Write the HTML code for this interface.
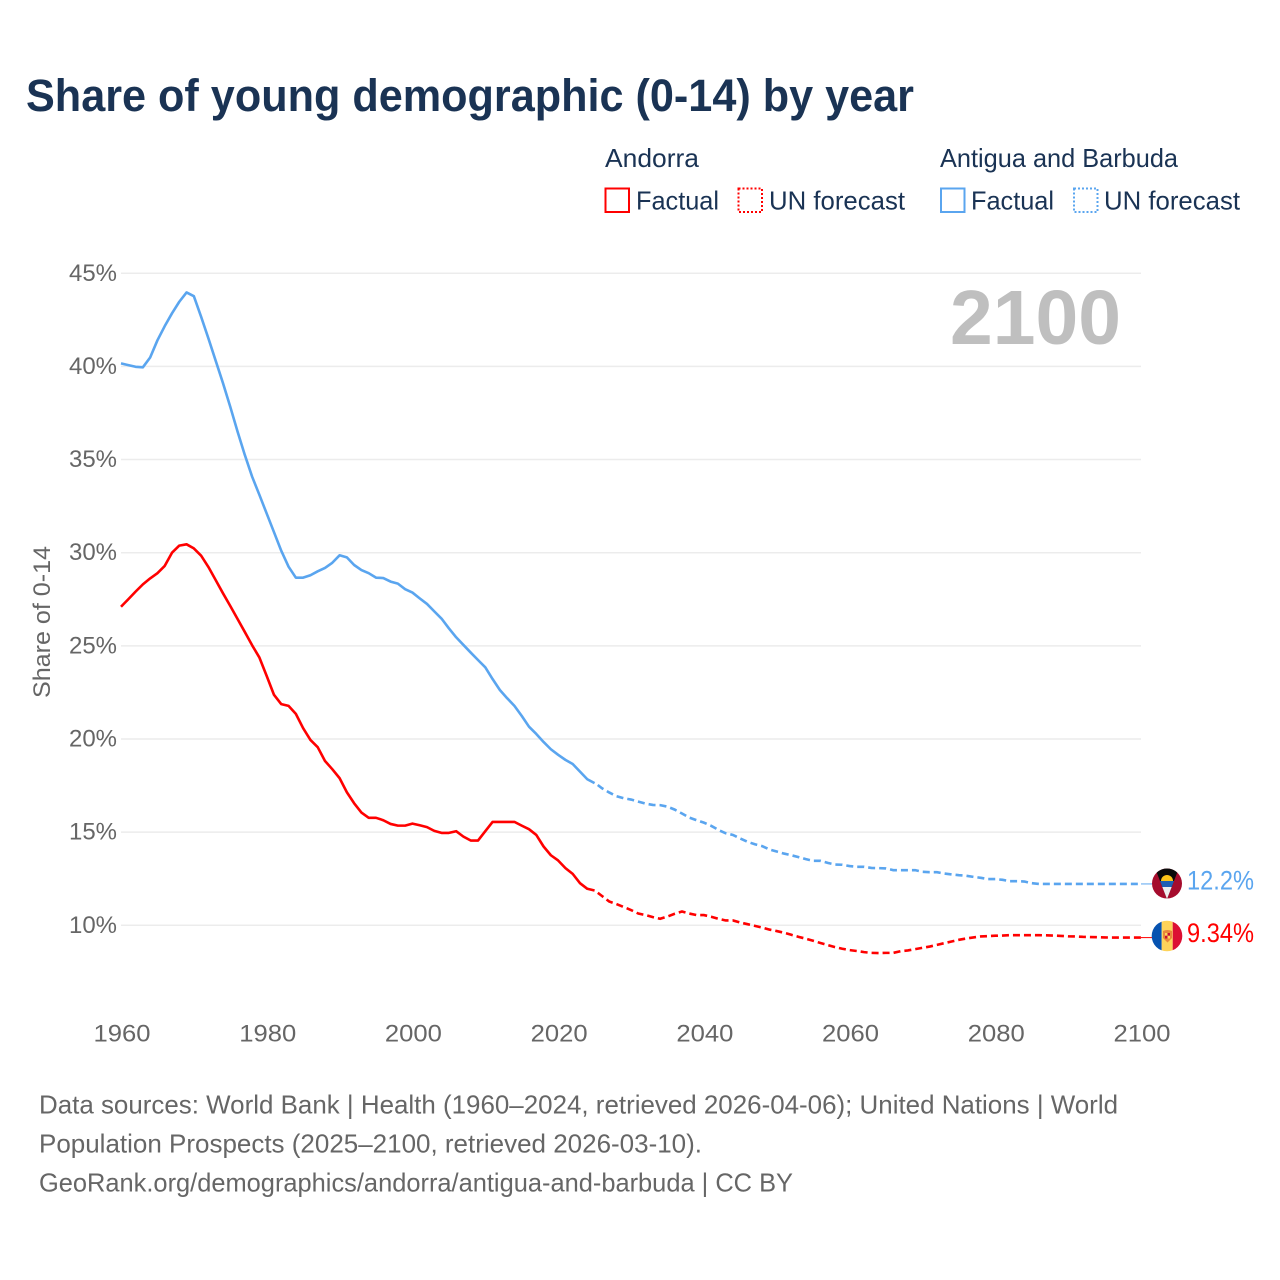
<!DOCTYPE html>
<html lang="en">
<head>
<meta charset="utf-8">
<title>Share of young demographic (0-14) by year</title>
<style>
  html, body { margin: 0; padding: 0; background: #fff; }
  svg { display: block; font-family: "Liberation Sans", sans-serif; }
</style>
</head>
<body>
<svg id="chart" width="1280" height="1280" viewBox="0 0 1280 1280" xmlns="http://www.w3.org/2000/svg">
  <rect width="1280" height="1280" fill="#ffffff"/>
  <text x="26" y="111" font-size="45" font-weight="700" fill="#1a3354" textLength="888" lengthAdjust="spacingAndGlyphs">Share of young demographic (0-14) by year</text>

  <g font-size="26" fill="#1a3354">
    <text x="605" y="167" textLength="94" lengthAdjust="spacingAndGlyphs">Andorra</text>
    <text x="940" y="167" textLength="238" lengthAdjust="spacingAndGlyphs">Antigua and Barbuda</text>
    <g>
      <rect x="605.5" y="188.5" width="23.5" height="23.5" fill="none" stroke="#ff0000" stroke-width="2"/>
      <text x="636" y="209.5" textLength="83" lengthAdjust="spacingAndGlyphs">Factual</text>
    </g>
    <g>
      <rect x="738.5" y="188.5" width="23.5" height="23.5" fill="none" stroke="#ff0000" stroke-width="2" stroke-dasharray="2 2"/>
      <text x="769" y="209.5" textLength="136" lengthAdjust="spacingAndGlyphs">UN forecast</text>
    </g>
    <g>
      <rect x="941" y="188.5" width="23.5" height="23.5" fill="none" stroke="#5aa5ef" stroke-width="2"/>
      <text x="971" y="209.5" textLength="83" lengthAdjust="spacingAndGlyphs">Factual</text>
    </g>
    <g>
      <rect x="1074" y="188.5" width="23.5" height="23.5" fill="none" stroke="#5aa5ef" stroke-width="2" stroke-dasharray="2 2"/>
      <text x="1104" y="209.5" textLength="136" lengthAdjust="spacingAndGlyphs">UN forecast</text>
    </g>
  </g>

  <g id="grid"></g>
  <g id="yticks" font-size="24.5" fill="#666666" text-anchor="end"></g>
  <g id="xticks" font-size="24.5" fill="#666666" text-anchor="middle"></g>
  <text transform="translate(50 622) rotate(-90)" font-size="24.5" fill="#666666" text-anchor="middle" textLength="152" lengthAdjust="spacingAndGlyphs">Share of 0-14</text>
  <text x="950" y="344" font-size="77" font-weight="700" fill="#bfbfbf" textLength="171" lengthAdjust="spacingAndGlyphs">2100</text>

  <g id="series" fill="none"></g>
  <g id="endlabels" font-size="27"></g>

  <defs>
    <clipPath id="flag-clip-ag"><circle cx="1167" cy="883.5" r="15"/></clipPath>
    <clipPath id="flag-clip-ad"><circle cx="1167" cy="936" r="15.3"/></clipPath>
  </defs>
  <g clip-path="url(#flag-clip-ag)">
    <rect x="1152" y="868" width="30" height="31" fill="#a50c2d"/>
    <polygon points="1155,868 1179,868 1167,899" fill="#0a0a0a"/>
    <path d="M1161 881 a6 6 0 0 1 12 0 z" fill="#fcc419"/>
    <polygon points="1160,881 1174,881 1171.7,887 1162.3,887" fill="#1f5fb4"/>
    <polygon points="1162.3,887 1171.7,887 1167,899" fill="#eeeeee"/>
  </g>
  <g clip-path="url(#flag-clip-ad)">
    <rect x="1151" y="920" width="10.7" height="32" fill="#0652b0"/>
    <rect x="1161.7" y="920" width="11" height="32" fill="#fdd35a"/>
    <rect x="1172.7" y="920" width="10" height="32" fill="#dc0f33"/>
    <path d="M1163 931 q4 -2 9 0 v7 l-4.5 4.5 l-4.5 -4.5 z" fill="#e8873a"/>
    <rect x="1165" y="933" width="5" height="5.5" fill="#fdd35a"/>
    <rect x="1167.5" y="933" width="2.5" height="2.7" fill="#c8102e"/>
    <rect x="1165" y="935.7" width="2.5" height="2.8" fill="#c8102e"/>
  </g>

  <g font-size="26" fill="#666666">
    <text x="39" y="1113.5" textLength="1079" lengthAdjust="spacingAndGlyphs">Data sources: World Bank | Health (1960–2024, retrieved 2026-04-06); United Nations | World</text>
    <text x="39" y="1152.5" textLength="663" lengthAdjust="spacingAndGlyphs">Population Prospects (2025–2100, retrieved 2026-03-10).</text>
    <text x="39" y="1191.5" textLength="754" lengthAdjust="spacingAndGlyphs">GeoRank.org/demographics/andorra/antigua-and-barbuda | CC BY</text>
  </g>
</svg>

<script>
const firstFactualYear = 1960;
const firstForecastYear = 2025;
const yTickValues = [10, 15, 20, 25, 30, 35, 40, 45];
const yTickLabels = ['10%', '15%', '20%', '25%', '30%', '35%', '40%', '45%'];
const xTickValues = [1960, 1980, 2000, 2020, 2040, 2060, 2080, 2100];
const xTickLabels = ['1960', '1980', '2000', '2020', '2040', '2060', '2080', '2100'];

const andorraFactual = [
  27.1, 27.5, 27.91, 28.3, 28.62, 28.9, 29.29, 30.0, 30.38, 30.45,
  30.23, 29.84, 29.23, 28.53, 27.82, 27.14, 26.44, 25.74, 25.03, 24.37,
  23.38, 22.37, 21.87, 21.78, 21.35, 20.58, 19.95, 19.56, 18.82, 18.38,
  17.9, 17.14, 16.55, 16.05, 15.77, 15.77, 15.64, 15.44, 15.35, 15.35,
  15.46, 15.37, 15.27, 15.07, 14.96, 14.96, 15.05, 14.76, 14.55, 14.55,
  15.05, 15.55, 15.55, 15.55, 15.55, 15.35, 15.16, 14.85, 14.23, 13.76,
  13.48, 13.07, 12.76, 12.26, 11.96, 11.87
];
const andorraForecast = [
  11.87, 11.58, 11.28, 11.14, 10.98, 10.82, 10.63, 10.55, 10.44, 10.35,
  10.47, 10.62, 10.74, 10.63, 10.55, 10.55, 10.46, 10.35, 10.26, 10.26,
  10.15, 10.06, 9.97, 9.88, 9.77, 9.69, 9.6, 9.49, 9.38, 9.28,
  9.17, 9.05, 8.94, 8.83, 8.74, 8.67, 8.62, 8.56, 8.52, 8.51,
  8.52, 8.52, 8.61, 8.65, 8.72, 8.79, 8.86, 8.95, 9.04, 9.13,
  9.22, 9.29, 9.35, 9.4, 9.42, 9.44, 9.45, 9.47, 9.47, 9.47,
  9.47, 9.47, 9.46, 9.45, 9.43, 9.41, 9.4, 9.38, 9.37, 9.36,
  9.35, 9.34, 9.34, 9.34, 9.34, 9.34
];
const antiguaFactual = [
  40.16, 40.07, 39.98, 39.95, 40.48, 41.4, 42.16, 42.85, 43.47, 43.97,
  43.77, 42.66, 41.5, 40.3, 39.1, 37.83, 36.5, 35.24, 34.08, 33.1,
  32.1, 31.1, 30.1, 29.25, 28.66, 28.66, 28.79, 29.0, 29.18, 29.46,
  29.86, 29.75, 29.34, 29.07, 28.9, 28.66, 28.64, 28.45, 28.34, 28.04,
  27.86, 27.55, 27.25, 26.85, 26.46, 25.94, 25.46, 25.05, 24.64, 24.24,
  23.85, 23.22, 22.63, 22.19, 21.78, 21.24, 20.66, 20.27, 19.84, 19.45,
  19.15, 18.88, 18.66, 18.25, 17.84, 17.63
];
const antiguaForecast = [
  17.66, 17.36, 17.13, 16.93, 16.82, 16.75, 16.64, 16.53, 16.46, 16.45,
  16.37, 16.21, 16.0, 15.78, 15.64, 15.51, 15.34, 15.12, 14.94, 14.85,
  14.66, 14.48, 14.35, 14.25, 14.07, 13.96, 13.85, 13.76, 13.66, 13.55,
  13.46, 13.46, 13.35, 13.26, 13.25, 13.18, 13.14, 13.14, 13.08, 13.07,
  13.05, 12.96, 12.96, 12.96, 12.96, 12.87, 12.85, 12.85, 12.78, 12.73,
  12.69, 12.66, 12.6, 12.55, 12.48, 12.48, 12.44, 12.37, 12.37, 12.35,
  12.26, 12.22, 12.22, 12.22, 12.22, 12.22, 12.22, 12.22, 12.22, 12.22,
  12.22, 12.22, 12.22, 12.22, 12.22, 12.22
];
const andorraEndLabel = '9.34%';
const antiguaEndLabel = '12.2%';

const SVG_NS = 'http://www.w3.org/2000/svg';
function xScale(year) { return 121 + (year - 1960) * (1020 / 140); }
function yScale(value) { return 925.3 - (value - 10) * 18.63; }
function make(tag, parent, attrs) {
  const el = document.createElementNS(SVG_NS, tag);
  for (const key in attrs) el.setAttribute(key, attrs[key]);
  parent.appendChild(el);
  return el;
}
function pathFor(values, startYear) {
  return values.map(function (v, i) {
    return (i ? 'L' : 'M') + xScale(startYear + i).toFixed(2) + ' ' + yScale(v).toFixed(2);
  }).join(' ');
}

const gridGroup = document.getElementById('grid');
const yTickGroup = document.getElementById('yticks');
const xTickGroup = document.getElementById('xticks');
const seriesGroup = document.getElementById('series');
const endGroup = document.getElementById('endlabels');

yTickValues.forEach(function (v, i) {
  const line = make('line', gridGroup, { x1: xScale(1960), x2: xScale(2100), y1: yScale(v), y2: yScale(v), stroke: '#ececec', 'stroke-width': 1.5 });
  
  
  const label = make('text', yTickGroup, { x: 117, y: yScale(v) + 7.5, textLength: 48, lengthAdjust: 'spacingAndGlyphs' });
  label.textContent = yTickLabels[i];
  
  
});

xTickValues.forEach(function (year, i) {
  const label = make('text', xTickGroup, { x: xScale(year) + 1, y: 1041.5, textLength: 57, lengthAdjust: 'spacingAndGlyphs' });
  label.textContent = xTickLabels[i];
  
  
});

function drawSeries(key, color, factual, forecast, endLabel, labelOffset) {
  const solid = make('path', seriesGroup, { d: pathFor(factual, firstFactualYear), stroke: color, 'stroke-width': 2.6, 'stroke-linejoin': 'round' });
  
  
  const dashed = make('path', seriesGroup, { d: pathFor(forecast, firstForecastYear), stroke: color, 'stroke-width': 2.6, 'stroke-dasharray': '7 4', 'stroke-dashoffset': 7 });
  
  
  const lastValue = forecast[forecast.length - 1];
  const endY = yScale(lastValue);
  const connector = make('line', seriesGroup, { x1: xScale(2100), x2: 1152, y1: endY, y2: endY, stroke: color, 'stroke-width': 1 });
  
  
  const label = make('text', endGroup, { x: 1187, y: endY + labelOffset, fill: color, textLength: 67, lengthAdjust: 'spacingAndGlyphs' });
  label.textContent = endLabel;
  
  
}

drawSeries('antigua', '#5aa5ef', antiguaFactual, antiguaForecast, antiguaEndLabel, 5.5);
drawSeries('andorra', '#ff0000', andorraFactual, andorraForecast, andorraEndLabel, 4.5);
</script>
</body>
</html>
